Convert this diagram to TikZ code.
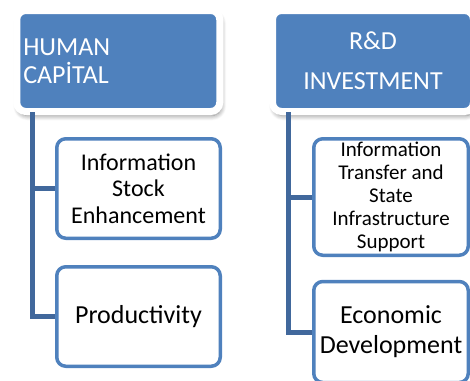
\documentclass[tikz,border=0pt]{standalone}
\usepackage{fontspec}
\setmainfont{Carlito}
\usetikzlibrary{shadows, shadows.blur, positioning}
\definecolor{sa-blue}{HTML}{4F81BD}
\definecolor{sa-line}{HTML}{41689C}

\begin{document}
\begin{tikzpicture}[x=1pt, y=-1pt,
  head/.style={rectangle, rounded corners=9pt, fill=sa-blue, draw=white, line width=7pt,
    text=white, inner sep=0pt, minimum width=203pt, minimum height=101pt,
    blur shadow={shadow xshift=1.5pt, shadow yshift=-4pt, shadow blur radius=5pt,
      shadow blur steps=8, shadow opacity=50}},
  item/.style={rectangle, rounded corners=9pt, fill=white, draw=sa-blue, line width=3.5pt,
    inner sep=0pt, minimum width=163.5pt, align=center},
  link/.style={draw=sa-line, line width=5pt, shorten <=-3pt}]
\useasboundingbox (0,0) rectangle (470,380);

% top level
\path (118.25,61) node[head, text width=190pt, align=left,
  font=\fontsize{26}{28}\selectfont] (hum-cap) {HUMAN\\CAPİTAL};
\path (373,61) node[head, minimum width=201pt, align=center,
  font=\fontsize{26}{40}\selectfont] (rd-inv) {R\&D\\INVESTMENT};

% left branch
\path (138.5,188.5) node[item, minimum height=99.5pt,
  font=\fontsize{24}{26.5}\selectfont] (stock) {Information\\Stock\\Enhancement};
\path (138.5,316.5) node[item, minimum height=99.5pt,
  font=\fontsize{26}{30}\selectfont] (prod) {Productivity};

% right branch
\path (391,197) node[item, minimum width=154.5pt, minimum height=116.5pt,
  font=\fontsize{21}{23}\selectfont] (transfer) {Information\\Transfer and\\State\\Infrastructure\\Support};
\path (391,332) node[item, minimum width=154.5pt, minimum height=101pt,
  font=\fontsize{26}{30}\selectfont] (econ) {Economic\\Development};

\draw[link] ([xshift=19.5pt]hum-cap.south west) |- (stock.west);
\draw[link] ([xshift=19.5pt]hum-cap.south west) |- (prod.west);
\draw[link] ([xshift=19.5pt]rd-inv.south west) |- (transfer.west);
\draw[link] ([xshift=19.5pt]rd-inv.south west) |- (econ.west);
\end{tikzpicture}
\end{document}
